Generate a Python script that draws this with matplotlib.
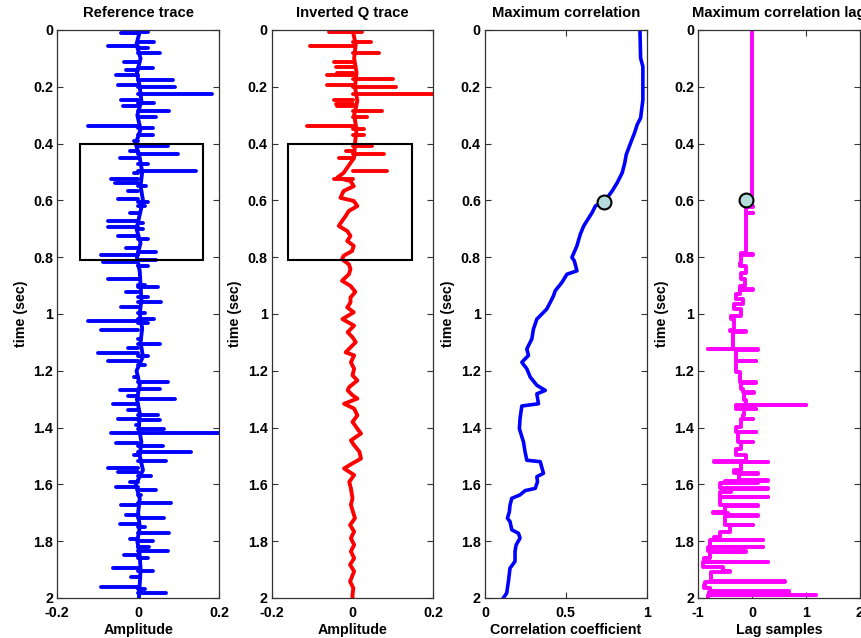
import numpy as np
import matplotlib
matplotlib.use("Agg")
import matplotlib.pyplot as plt
from matplotlib.patches import Rectangle
from matplotlib.ticker import FormatStrFormatter

plt.rcParams["font.family"] = ["Liberation Sans", "DejaVu Sans"]
plt.rcParams["font.weight"] = "bold"
plt.rcParams["font.size"] = 10
plt.rcParams["axes.unicode_minus"] = False

# ---------------- reference trace: spikes + centre wiggle ----------------
ref_spk_t = [0.006, 0.009, 0.041, 0.058, 0.064, 0.082, 0.111, 0.135, 0.140, 0.158,
             0.175, 0.193, 0.202, 0.225, 0.246, 0.257, 0.267, 0.287, 0.306, 0.337,
             0.345, 0.368, 0.392, 0.409, 0.425, 0.435, 0.450, 0.471, 0.495, 0.503,
             0.524, 0.538, 0.550, 0.567, 0.594, 0.606, 0.620, 0.643, 0.673, 0.681,
             0.692, 0.699, 0.725, 0.735, 0.766, 0.781, 0.793, 0.809, 0.816, 0.830,
             0.877, 0.898, 0.906, 0.922, 0.939, 0.957, 0.977, 0.996, 1.018, 1.023,
             1.032, 1.058, 1.088, 1.105, 1.120, 1.138, 1.148, 1.164, 1.181, 1.222,
             1.240, 1.263, 1.269, 1.287, 1.298, 1.316, 1.339, 1.357, 1.368, 1.374,
             1.392, 1.404, 1.418, 1.419, 1.453, 1.465, 1.485, 1.497, 1.518, 1.544,
             1.558, 1.570, 1.593, 1.608, 1.618, 1.637, 1.667, 1.673, 1.708, 1.719,
             1.739, 1.749, 1.772, 1.792, 1.801, 1.820, 1.836, 1.848, 1.860, 1.895,
             1.906, 1.925, 1.963, 1.967, 1.982, 1.994]
ref_spk_a = [0.024, -0.042, 0.040, -0.075, 0.024, 0.053, -0.034, 0.036, -0.030, -0.054,
             0.086, -0.050, 0.090, 0.184, -0.042, 0.040, -0.038, 0.077, 0.044, -0.123,
             0.036, 0.036, -0.009, 0.073, -0.021, 0.098, -0.046, 0.024, 0.143, -0.009,
             -0.067, -0.058, 0.020, -0.026, -0.050, 0.024, 0.016, -0.021, -0.075, 0.012,
             -0.075, 0.012, -0.050, 0.024, -0.030, 0.044, -0.091, 0.044, -0.087, 0.024,
             -0.075, 0.016, 0.049, -0.030, 0.024, 0.057, -0.042, 0.016, 0.040, -0.124,
             0.024, -0.091, 0.007, 0.053, -0.026, -0.100, 0.024, -0.075, 0.016, -0.009,
             0.073, 0.053, -0.046, -0.026, 0.090, -0.062, -0.026, 0.049, -0.050, 0.053,
             -0.005, 0.065, 0.200, -0.067, -0.054, 0.061, 0.131, -0.009, 0.069, -0.075,
             -0.050, 0.032, -0.021, -0.054, 0.044, 0.007, 0.081, -0.042, -0.030, 0.065,
             -0.046, 0.016, 0.077, -0.021, 0.036, 0.028, 0.073, -0.034, 0.024, -0.062,
             0.036, -0.017, -0.091, 0.016, 0.069, -0.001]
ref_mid_t = [0.00, 0.05, 0.10, 0.15, 0.20, 0.25, 0.30, 0.35, 0.40, 0.45, 0.50, 0.55,
             0.60, 0.65, 0.70, 0.75, 0.80, 0.85, 0.90, 0.95, 1.00, 1.05, 1.10, 1.15,
             1.20, 1.25, 1.30, 1.35, 1.40, 1.45, 1.50, 1.55, 1.60, 1.65, 1.70, 1.75,
             1.80, 1.85, 1.90, 1.95, 2.00]
ref_mid_a = [0.005, -0.004, 0.006, -0.003, 0.004, 0.008, -0.002, 0.006, -0.006, 0.004,
             0.010, 0.006, 0.012, 0.004, -0.004, 0.006, -0.003, 0.004, 0.006, 0.008,
             0.004, 0.010, 0.006, 0.012, -0.004, 0.004, -0.003, 0.004, 0.002, 0.008,
             0.004, 0.012, -0.006, 0.004, 0.000, 0.004, -0.002, 0.004, 0.006, 0.004,
             0.002]

# ---------------- inverted Q trace ----------------
invq_spk_t = [0.006, 0.008, 0.041, 0.058, 0.082, 0.111, 0.132, 0.152, 0.158, 0.173,
              0.193, 0.202, 0.225, 0.246, 0.260, 0.267, 0.287, 0.306, 0.337, 0.349,
              0.368, 0.409, 0.427, 0.435, 0.450, 0.495, 0.524]
invq_spk_a = [0.024, -0.059, 0.045, -0.105, 0.066, -0.046, -0.042, -0.038, -0.063, 0.099,
              -0.063, 0.107, 0.198, -0.046, -0.042, -0.038, 0.074, 0.037, -0.113, 0.028,
              0.028, 0.049, -0.017, 0.078, -0.034, 0.086, -0.046]
invq_mid_t = [0.000, 0.050, 0.100, 0.150, 0.200, 0.250, 0.300, 0.350, 0.400, 0.450,
              0.503, 0.520, 0.532, 0.550, 0.567, 0.591, 0.602, 0.620, 0.637, 0.655,
              0.673, 0.690, 0.708, 0.725, 0.743, 0.760, 0.778, 0.795, 0.807, 0.825,
              0.842, 0.860, 0.883, 0.901, 0.922, 0.942, 0.959, 0.977, 0.994, 1.018,
              1.041, 1.064, 1.082, 1.099, 1.135, 1.146, 1.170, 1.193, 1.216, 1.234,
              1.257, 1.269, 1.286, 1.298, 1.316, 1.333, 1.357, 1.380, 1.404, 1.421,
              1.445, 1.462, 1.485, 1.509, 1.526, 1.544, 1.567, 1.591, 1.614, 1.649,
              1.672, 1.719, 1.743, 1.766, 1.789, 1.813, 1.836, 1.860, 1.883, 1.906,
              1.942, 1.965, 1.988, 2.000]
invq_mid_a = [0.000, 0.008, 0.004, 0.010, 0.006, 0.012, 0.004, 0.010, 0.006, 0.004,
              -0.022, -0.038, -0.005, 0.003, -0.022, -0.030, 0.003, 0.012, -0.009, -0.017,
              -0.026, -0.034, -0.013, -0.005, -0.013, 0.003, -0.001, -0.022, -0.026, -0.009,
              -0.005, -0.009, -0.026, -0.005, 0.007, -0.005, -0.005, -0.013, 0.003, -0.025,
              0.004, -0.012, 0.000, 0.008, -0.017, 0.004, -0.004, 0.004, 0.000, 0.012,
              -0.008, -0.012, 0.000, 0.012, -0.021, 0.004, 0.012, 0.000, 0.012, 0.021,
              -0.004, 0.004, 0.017, 0.021, 0.000, -0.021, 0.004, -0.008, -0.004, 0.000,
              -0.004, 0.006, -0.006, 0.004, -0.004, 0.004, -0.004, 0.004, -0.006, 0.004,
              -0.006, 0.002, 0.000, 0.000]

# ---------------- maximum correlation ----------------
corr_t = [0.000, 0.099, 0.129, 0.199, 0.246, 0.310, 0.333, 0.363, 0.398, 0.439,
          0.468, 0.503, 0.538, 0.567, 0.596, 0.620, 0.643, 0.690, 0.719, 0.760,
          0.801, 0.813, 0.848, 0.860, 0.889, 0.918, 0.936, 0.959, 0.982, 1.006,
          1.018, 1.053, 1.088, 1.123, 1.146, 1.170, 1.193, 1.222, 1.251, 1.269,
          1.281, 1.316, 1.324, 1.368, 1.404, 1.450, 1.485, 1.515, 1.520, 1.561,
          1.573, 1.591, 1.614, 1.622, 1.637, 1.649, 1.673, 1.696, 1.719, 1.731,
          1.760, 1.772, 1.789, 1.813, 1.836, 1.871, 1.895, 1.942, 1.965, 1.982,
          2.000]
corr_v = [0.959, 0.963, 0.977, 0.977, 0.977, 0.963, 0.942, 0.925, 0.901, 0.874,
          0.865, 0.849, 0.818, 0.787, 0.749, 0.683, 0.663, 0.611, 0.590, 0.569,
          0.538, 0.553, 0.569, 0.507, 0.476, 0.435, 0.424, 0.404, 0.383, 0.342,
          0.321, 0.300, 0.290, 0.259, 0.269, 0.228, 0.259, 0.280, 0.321, 0.373,
          0.321, 0.331, 0.228, 0.217, 0.213, 0.238, 0.248, 0.259, 0.342, 0.362,
          0.321, 0.325, 0.311, 0.248, 0.217, 0.166, 0.155, 0.151, 0.139, 0.155,
          0.166, 0.207, 0.217, 0.193, 0.186, 0.186, 0.155, 0.145, 0.139, 0.135,
          0.114]

# ---------------- maximum correlation lag ----------------
lag_t = [0.000, 0.598, 0.600, 0.620, 0.622, 0.643, 0.645, 0.784, 0.789, 0.791,
         0.819, 0.830, 0.854, 0.877, 0.901, 0.912, 0.914, 0.930, 0.947, 0.965,
         0.982, 1.006, 1.018, 1.058, 1.060, 1.062, 1.082, 1.123, 1.125, 1.127,
         1.164, 1.166, 1.205, 1.240, 1.242, 1.263, 1.275, 1.277, 1.304, 1.319,
         1.321, 1.333, 1.335, 1.357, 1.368, 1.370, 1.398, 1.415, 1.417, 1.450,
         1.452, 1.474, 1.497, 1.518, 1.520, 1.522, 1.550, 1.561, 1.563, 1.585,
         1.587, 1.592, 1.594, 1.614, 1.616, 1.626, 1.643, 1.645, 1.673, 1.675,
         1.696, 1.702, 1.708, 1.710, 1.742, 1.744, 1.766, 1.784, 1.795, 1.797,
         1.819, 1.821, 1.836, 1.838, 1.860, 1.872, 1.874, 1.890, 1.906, 1.908,
         1.941, 1.943, 1.954, 1.965, 1.977, 1.979, 1.988, 1.990, 2.000]
lag_v = [0.00, 0.00, -0.12, 0.01, -0.12, 0.01, -0.12, -0.20, 0.01, -0.20,
         -0.23, -0.11, -0.20, -0.14, -0.23, 0.01, -0.23, -0.30, -0.17, -0.33,
         -0.20, -0.39, -0.33, -0.42, -0.11, -0.36, -0.36, -0.82, 0.10, -0.30,
         0.07, -0.30, -0.23, 0.07, -0.20, -0.17, 0.04, -0.15, -0.11, 1.00,
         -0.30, 0.07, -0.15, -0.17, 0.01, -0.20, -0.30, 0.07, -0.26, 0.01,
         -0.20, -0.30, -0.11, -0.70, 0.29, -0.20, -0.33, 0.10, -0.25, 0.29,
         -0.51, 0.10, -0.60, 0.29, -0.40, -0.60, 0.29, -0.60, 0.10, -0.50,
         -0.73, -0.45, 0.10, -0.51, 0.01, -0.42, -0.60, -0.70, 0.20, -0.78,
         0.20, -0.82, -0.11, -0.79, -0.90, 0.29, -0.91, -0.55, -0.42, -0.76,
         0.60, -0.88, -0.90, -0.79, 0.69, -0.80, 1.18, -0.82, -0.82]

# picked point and analysis windows
pick_corr = (0.739, 0.606)
pick_lag = (-0.12, 0.597)
win_ref = (-0.144, 0.160, 0.40, 0.81)
win_invq = (-0.159, 0.148, 0.40, 0.81)

time_ticks = [0, 0.2, 0.4, 0.6, 0.8, 1, 1.2, 1.4, 1.6, 1.8, 2]

fig = plt.figure(figsize=(8.62, 6.38), dpi=100)
lefts = [0.0665, 0.3152, 0.5626, 0.8101]
axs = [fig.add_axes([l, 0.0627, 0.1875, 0.8903]) for l in lefts]


def style_axis(ax, xlim, xticks, title, xlabel):
    ax.set_xlim(*xlim)
    ax.set_ylim(2, 0)
    ax.set_xticks(xticks)
    ax.set_xticklabels(["%g" % v for v in xticks])
    ax.set_yticks(time_ticks)
    ax.yaxis.set_major_formatter(FormatStrFormatter("%g"))
    ax.tick_params(direction="in", top=True, right=True, length=4, width=0.8,
                   color="#333333", labelsize=10.3)
    ax.tick_params(axis="x", pad=5.5)
    ax.tick_params(axis="y", pad=3)
    for s in ax.spines.values():
        s.set_color("#333333")
        s.set_linewidth(0.9)
    ax.set_title(title, fontweight="bold", fontsize=10.6, pad=9)
    ax.set_xlabel(xlabel, fontweight="bold", fontsize=10.3, labelpad=2.5)
    ax.set_ylabel("time (sec)", fontweight="bold", fontsize=10.3, labelpad=4)


def draw_trace(ax, spk_t, spk_a, mid_t, mid_a, color):
    ax.plot(mid_a, mid_t, color=color, lw=2.8, solid_joinstyle="round")
    ax.hlines(spk_t, 0, spk_a, colors=color, lw=2.8, capstyle="round")


def draw_window(ax, win):
    x0, x1, t0, t1 = win
    ax.add_patch(Rectangle((x0, t0), x1 - x0, t1 - t0, fill=False,
                           edgecolor="black", lw=1.5, zorder=5))


# 1) reference trace
ax = axs[0]
draw_trace(ax, ref_spk_t, ref_spk_a, ref_mid_t, ref_mid_a, "blue")
draw_window(ax, win_ref)
style_axis(ax, (-0.2, 0.2), [-0.2, 0, 0.2], "Reference trace", "Amplitude")

# 2) inverted Q trace
ax = axs[1]
draw_trace(ax, invq_spk_t, invq_spk_a, invq_mid_t, invq_mid_a, "red")
draw_window(ax, win_invq)
style_axis(ax, (-0.2, 0.2), [-0.2, 0, 0.2], "Inverted Q trace", "Amplitude")

# 3) max correlation
ax = axs[2]
ax.plot(corr_v, corr_t, color="blue", lw=2.6)
ax.plot(*pick_corr, "o", ms=10, mfc="#b4dcdc", mec="black", mew=1.5, zorder=6)
style_axis(ax, (0, 1), [0, 0.5, 1], "Maximum correlation", "Correlation coefficient")

# 4) lag of max correlation
ax = axs[3]
ax.plot(lag_v, lag_t, color="magenta", lw=2.8, drawstyle="steps-pre")
ax.plot(*pick_lag, "o", ms=10, mfc="#b4dcdc", mec="black", mew=1.5, zorder=6)
style_axis(ax, (-1, 2), [-1, 0, 1, 2], "Maximum correlation lag", "Lag samples")

fig.savefig("out.png", dpi=100)
